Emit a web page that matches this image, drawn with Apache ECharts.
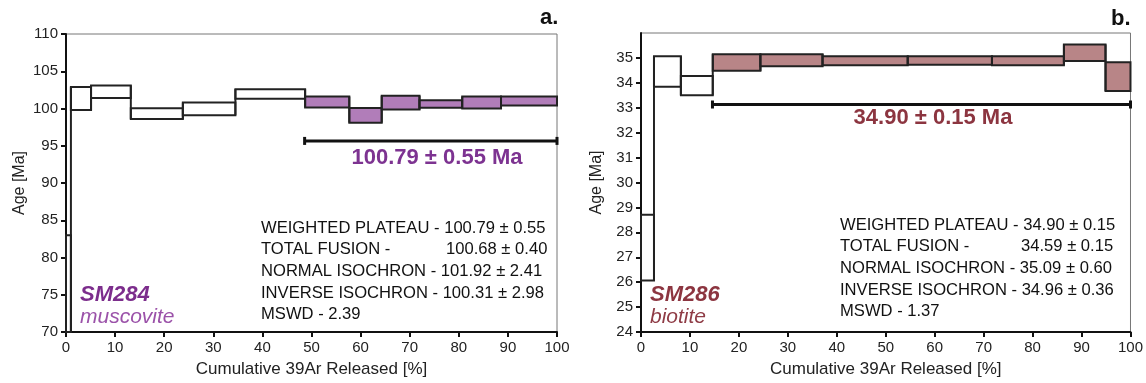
<!DOCTYPE html>
<html>
<head>
<meta charset="utf-8">
<script src="https://cdn.jsdelivr.net/npm/echarts@6/dist/echarts.min.js"></script>
<style>
  html, body { margin: 0; padding: 0; background: #fff; }
  #chart { width: 1146px; height: 383px; }
</style>
</head>
<body>
<div id="chart"></div>
<script>
// --- panel a: SM284 muscovite ---
const edgesA = [0, 1.0, 5.1, 13.2, 23.8, 34.5, 48.7, 57.7, 64.3, 72.0, 80.7, 88.6, 100];
const ageLoA = [62, 99.8, 101.4, 98.6, 99.1, 101.3, 100.15, 98.1, 99.85, 100.1, 100.0, 100.4];
const ageHiA = [83.0, 102.9, 103.1, 100.05, 100.8, 102.6, 101.6, 100.07, 101.7, 101.1, 101.6, 101.6];
const plateauStepsA = [0, 0, 0, 0, 0, 0, 1, 1, 1, 1, 1, 1];
const plateauA = [48.6, 100, 95.65]; // x start, x end, age of the bar
const yTicksA = [70, 75, 80, 85, 90, 95, 100, 105, 110];
const statsA = [
  'WEIGHTED PLATEAU - 100.79 ± 0.55',
  'TOTAL FUSION -',
  'NORMAL ISOCHRON - 101.92 ± 2.41',
  'INVERSE ISOCHRON - 100.31 ± 2.98',
  'MSWD - 2.39'
];
const totalFusionA = '100.68 ± 0.40';

// --- panel b: SM286 biotite ---
const edgesB = [0, 2.65, 8.15, 14.66, 24.4, 37.1, 54.5, 71.7, 86.4, 94.9, 100];
const ageLoB = [26.07, 33.84, 33.5, 34.48, 34.67, 34.71, 34.73, 34.71, 34.88, 33.67];
const ageHiB = [28.71, 35.07, 34.27, 35.15, 35.15, 35.07, 35.07, 35.07, 35.54, 34.83];
const plateauStepsB = [0, 0, 0, 1, 1, 1, 1, 1, 1, 1];
const plateauB = [14.6, 100, 33.13];
const yTicksB = [24, 25, 26, 27, 28, 29, 30, 31, 32, 33, 34, 35];
const statsB = [
  'WEIGHTED PLATEAU - 34.90 ± 0.15',
  'TOTAL FUSION -',
  'NORMAL ISOCHRON - 35.09 ± 0.60',
  'INVERSE ISOCHRON - 34.96 ± 0.36',
  'MSWD - 1.37'
];
const totalFusionB = '34.59 ± 0.15';

const xTicks = [0, 10, 20, 30, 40, 50, 60, 70, 80, 90, 100];

const FONT = '"Liberation Sans", Arial, sans-serif';
const INK = '#222';

const chart = echarts.init(document.getElementById('chart'));

// each step: [x0, x1, lo, hi, inPlateau, prevLo, prevHi]
const buildSteps = (edges, lo, hi, flags) =>
  lo.map((v, i) => [edges[i], edges[i + 1], v, hi[i], flags[i],
    i > 0 ? lo[i - 1] : v, i > 0 ? hi[i - 1] : hi[i]]);

const stepRenderer = (fill) => (params, api) => {
  const x0 = api.value(0), x1 = api.value(1);
  const lo = api.value(2), hi = api.value(3);
  const a = api.coord([x0, hi]);
  const b = api.coord([x1, lo]);
  const cs = params.coordSys;
  const box = echarts.graphic.clipRectByRect(
    { x: a[0], y: a[1], width: b[0] - a[0], height: b[1] - a[1] },
    { x: cs.x, y: cs.y, width: cs.width, height: cs.height }
  );
  const children = [];
  if (box) {
    children.push({
      type: 'rect',
      shape: box,
      style: { fill: api.value(4) ? fill : '#fff', stroke: INK, lineWidth: 2 }
    });
  }
  if (params.dataIndex > 0) {
    // vertical joint between this step and the previous one
    const top = api.coord([x0, Math.max(hi, api.value(6))])[1];
    const bot = api.coord([x0, Math.min(lo, api.value(5))])[1];
    children.push({
      type: 'line',
      shape: { x1: a[0], y1: Math.max(top, cs.y), x2: a[0], y2: Math.min(bot, cs.y + cs.height) },
      style: { stroke: INK, lineWidth: 2 }
    });
  }
  return { type: 'group', children };
};

const plateauRenderer = (params, api) => {
  const a = api.coord([api.value(0), api.value(2)]);
  const b = api.coord([api.value(1), api.value(2)]);
  const cap = 4;
  const st = { stroke: '#111', lineWidth: 3 };
  return {
    type: 'group',
    children: [
      { type: 'line', shape: { x1: a[0], y1: a[1], x2: b[0], y2: b[1] }, style: st },
      { type: 'line', shape: { x1: a[0], y1: a[1] - cap, x2: a[0], y2: a[1] + cap }, style: st },
      { type: 'line', shape: { x1: b[0], y1: b[1] - cap, x2: b[0], y2: b[1] + cap }, style: st }
    ]
  };
};

const makeXAxis = (gridIndex) => ({
  gridIndex,
  type: 'value',
  min: 0,
  max: 100,
  interval: 10,
  name: 'Cumulative 39Ar Released [%]',
  nameLocation: 'middle',
  nameGap: 29,
  nameTextStyle: { fontSize: 17, color: INK, fontFamily: FONT },
  axisLine: { lineStyle: { color: '#111', width: 2 } },
  axisTick: { length: 5, lineStyle: { color: '#111', width: 2 }, customValues: xTicks },
  axisLabel: { fontSize: 15, color: INK, fontFamily: FONT, margin: 8, customValues: xTicks },
  splitLine: { show: false }
});

const makeYAxis = (gridIndex, min, max, interval, ticks, nameGap) => ({
  gridIndex,
  type: 'value',
  min,
  max,
  interval,
  name: 'Age [Ma]',
  nameLocation: 'middle',
  nameGap,
  nameTextStyle: { fontSize: 16, color: INK, fontFamily: FONT },
  axisLine: { show: true, lineStyle: { color: '#111', width: 2 } },
  axisTick: { show: true, length: 5, lineStyle: { color: '#111', width: 2 }, customValues: ticks },
  axisLabel: { fontSize: 15, color: INK, fontFamily: FONT, margin: 8, customValues: ticks },
  splitLine: { show: false }
});

const textEl = (text, x, y, size, color, extra) => ({
  type: 'text',
  x,
  y,
  style: Object.assign({
    text,
    fill: color,
    font: `${size}px ${FONT}`,
    textVerticalAlign: 'middle'
  }, extra || {})
});

const statsGraphics = (lines, x, y0, step, tfValue, tfX) => {
  const els = lines.map((t, i) => textEl(t, x, y0 + i * step, 16.6, '#111'));
  els.push(textEl(tfValue, tfX, y0 + step, 16.6, '#111'));
  return els;
};

const option = {
  animation: false,
  backgroundColor: '#fff',
  grid: [
    { left: 66, top: 34, width: 491, height: 299, show: true, borderColor: '#777', borderWidth: 1 },
    { left: 641, top: 33, width: 491, height: 299, show: true, borderColor: '#777', borderWidth: 1 }
  ],
  xAxis: [makeXAxis(0), makeXAxis(1)],
  yAxis: [
    makeYAxis(0, 70, 110, 5, yTicksA, 38),
    makeYAxis(1, 24, 36, 1, yTicksB, 36)
  ],
  series: [
    {
      type: 'custom',
      xAxisIndex: 0,
      yAxisIndex: 0,
      renderItem: stepRenderer('#b17db9'),
      encode: { x: [0, 1], y: [2, 3] },
      data: buildSteps(edgesA, ageLoA, ageHiA, plateauStepsA)
    },
    {
      type: 'custom',
      xAxisIndex: 0,
      yAxisIndex: 0,
      renderItem: plateauRenderer,
      encode: { x: [0, 1], y: 2 },
      data: [plateauA]
    },
    {
      type: 'custom',
      xAxisIndex: 1,
      yAxisIndex: 1,
      renderItem: stepRenderer('#b88587'),
      encode: { x: [0, 1], y: [2, 3] },
      data: buildSteps(edgesB, ageLoB, ageHiB, plateauStepsB)
    },
    {
      type: 'custom',
      xAxisIndex: 1,
      yAxisIndex: 1,
      renderItem: plateauRenderer,
      encode: { x: [0, 1], y: 2 },
      data: [plateauB]
    }
  ],
  graphic: [
    // panel letters
    textEl('a.', 540, 18, 22, '#111', { font: `bold 22px ${FONT}` }),
    textEl('b.', 1111, 19, 22, '#111', { font: `bold 22px ${FONT}` }),
    // plateau ages
    textEl('100.79 ± 0.55 Ma', 437, 158, 22, '#7d3391', { font: `bold 22px ${FONT}`, textAlign: 'center' }),
    textEl('34.90 ± 0.15 Ma', 933, 118, 22, '#8c3540', { font: `bold 22px ${FONT}`, textAlign: 'center' }),
    // sample names
    textEl('SM284', 80, 295, 22, '#7c2d8c', { font: `italic bold 22px ${FONT}` }),
    textEl('muscovite', 80, 317, 21, '#9b52a9', { font: `italic 21px ${FONT}` }),
    textEl('SM286', 650, 295, 22, '#8c3540', { font: `italic bold 22px ${FONT}` }),
    textEl('biotite', 650, 317, 21, '#8f3c46', { font: `italic 21px ${FONT}` }),
    ...statsGraphics(statsA, 261, 228, 21.7, totalFusionA, 446),
    ...statsGraphics(statsB, 840, 225, 21.7, totalFusionB, 1021)
  ]
};

chart.setOption(option);
</script>
</body>
</html>
